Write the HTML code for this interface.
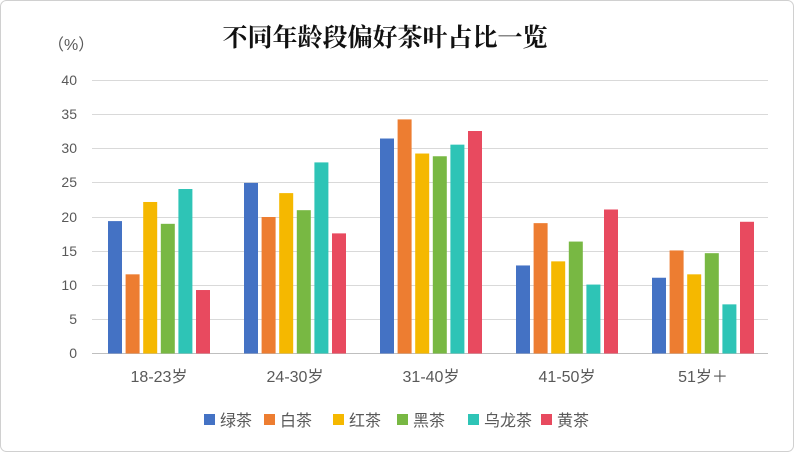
<!DOCTYPE html>
<html><head><meta charset="utf-8"><style>
body{margin:0;background:#fff}
svg{display:block}
text{font-family:"Liberation Sans","Noto Sans CJK SC",sans-serif;fill:#595959}
</style></head><body>
<svg width="794" height="452" viewBox="0 0 794 452">
<rect x="0.5" y="0.5" width="793" height="451" rx="6" fill="#fff" stroke="#d0d0d0"/>
<text x="385" y="46" text-anchor="middle" style="font-family:'Liberation Serif','Noto Serif CJK SC',serif;font-size:25px;font-weight:bold;fill:#111">不同年龄段偏好茶叶占比一览</text>
<text x="48" y="50" style="font-size:16px">（%）</text>
<g stroke="#d9d9d9" stroke-width="1">
<line x1="92" x2="768" y1="80.5" y2="80.5"/><line x1="92" x2="768" y1="114.5" y2="114.5"/>
<line x1="92" x2="768" y1="148.5" y2="148.5"/><line x1="92" x2="768" y1="182.5" y2="182.5"/>
<line x1="92" x2="768" y1="217.5" y2="217.5"/><line x1="92" x2="768" y1="251.5" y2="251.5"/>
<line x1="92" x2="768" y1="285.5" y2="285.5"/><line x1="92" x2="768" y1="319.5" y2="319.5"/>
<line x1="92" x2="768" y1="353.5" y2="353.5" stroke="#bfbfbf"/>
</g>
<g style="font-size:14px" text-anchor="end">
<text x="77" y="85">40</text><text x="77" y="119">35</text><text x="77" y="153">30</text>
<text x="77" y="187">25</text><text x="77" y="222">20</text><text x="77" y="256">15</text>
<text x="77" y="290">10</text><text x="77" y="324">5</text><text x="77" y="358">0</text>
</g>
<g id="bars"></g>
<g style="font-size:16px" text-anchor="middle">
<text x="159" y="382">18-23岁</text><text x="295" y="382">24-30岁</text><text x="431" y="382">31-40岁</text>
<text x="567" y="382">41-50岁</text><text x="703" y="382">51岁＋</text>
</g>
<g style="font-size:16px">
<rect x="204" y="414" width="11" height="11" fill="#4472C4"/><text x="220" y="426">绿茶</text>
<rect x="264" y="414" width="11" height="11" fill="#ED7D31"/><text x="280" y="426">白茶</text>
<rect x="333" y="414" width="11" height="11" fill="#F5B800"/><text x="349" y="426">红茶</text>
<rect x="397" y="414" width="11" height="11" fill="#78B843"/><text x="413" y="426">黑茶</text>
<rect x="468" y="414" width="11" height="11" fill="#2EC4B6"/><text x="484" y="426">乌龙茶</text>
<rect x="541" y="414" width="11" height="11" fill="#E84A5F"/><text x="557" y="426">黄茶</text>
</g>
</svg>
<script>
var d=[[19.4,11.6,22.2,19,24.1,9.3],[25,20,23.5,21,28,17.6],[31.5,34.3,29.3,28.9,30.6,32.6],[12.9,19.1,13.5,16.4,10.1,21.1],[11.1,15.1,11.6,14.7,7.2,19.3]];
var c=["#4472C4","#ED7D31","#F5B800","#78B843","#2EC4B6","#E84A5F"];
var g=document.getElementById("bars"),s="";
d.forEach(function(r,i){var x0=108+i*136;r.forEach(function(v,j){var h=v*6.825;s+='<rect x="'+(x0+j*17.6)+'" y="'+(353.5-h)+'" width="14" height="'+h+'" fill="'+c[j]+'"/>';});});
g.innerHTML=s;
</script>
</body></html>
